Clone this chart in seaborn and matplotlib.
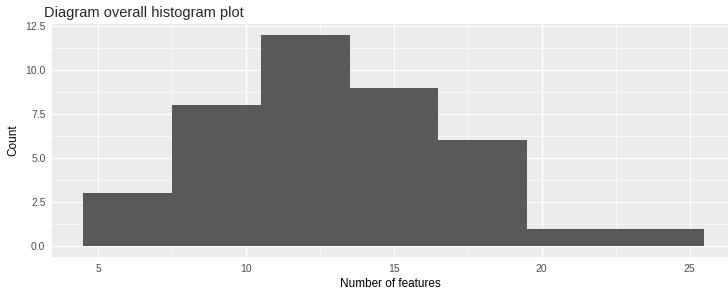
import matplotlib
matplotlib.use("agg")
import matplotlib.pyplot as plt
import pandas as pd
import seaborn as sns
import numpy as np
from matplotlib.ticker import MultipleLocator

# bin centres and counts (binwidth 3)
features = [6, 9, 12, 15, 18, 21, 24]
counts = [3, 8, 12, 9, 6, 1, 1]
bin_edges = [4.5, 7.5, 10.5, 13.5, 16.5, 19.5, 22.5, 25.5]
x_ticks = [5, 10, 15, 20, 25]
y_ticks = [0.0, 2.5, 5.0, 7.5, 10.0, 12.5]

d = pd.DataFrame({"features": features, "count": counts})

sns.set_style("darkgrid", {"axes.facecolor": "#EBEBEB", "grid.color": "white"})
plt.rcParams["font.family"] = ["Liberation Sans", "DejaVu Sans"]

fig = plt.figure(figsize=(7.28, 2.93), dpi=100)
ax = fig.add_axes([0.072, 0.124, 0.928, 0.793])

sns.histplot(data=d, x="features", weights="count", bins=bin_edges,
             color="#595959", alpha=1, edgecolor="none", linewidth=0, ax=ax)

ax.set_xlim(3.45, 26.3)
ax.set_ylim(-0.6, 12.6)
ax.set_xticks(x_ticks)
ax.set_yticks(y_ticks)
ax.set_yticklabels(["{:.1f}".format(y) for y in y_ticks])
ax.xaxis.set_minor_locator(MultipleLocator(2.5))
ax.yaxis.set_minor_locator(MultipleLocator(1.25))
ax.grid(which="major", color="white", linewidth=0.9)
ax.grid(which="minor", color="white", linewidth=0.45)
ax.set_axisbelow(True)
for s in ax.spines.values():
    s.set_visible(False)
ax.tick_params(which="major", length=3, width=0.8, color="#333333",
               labelcolor="#4D4D4D", labelsize=7.5, pad=2)
ax.tick_params(which="minor", length=0)

ax.set_xlabel("Number of features", fontsize=8.5, color="black", labelpad=3)
ax.set_ylabel("Count", fontsize=8.5, color="black", labelpad=4)
ax.set_title("Diagram overall histogram plot", fontsize=10.5, loc="left",
             x=-0.012, pad=5)

plt.savefig("out.png", dpi=100)
